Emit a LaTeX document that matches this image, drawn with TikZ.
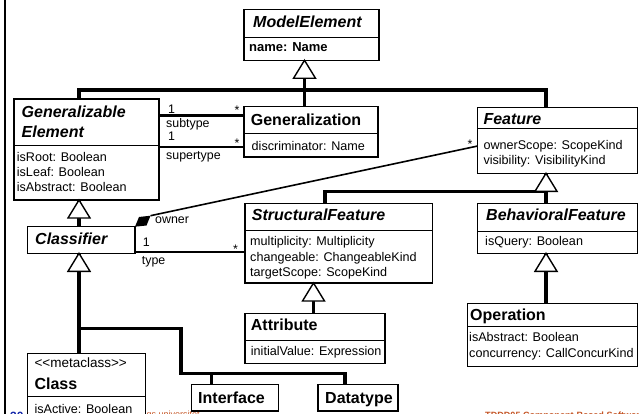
\documentclass[tikz,border=0pt]{standalone}
\usepackage{fontspec}
\setmainfont{Liberation Sans}[Ligatures=TeXOff]
\usetikzlibrary{calc}

\definecolor{footorange}{RGB}{196,84,36}
\definecolor{footblue}{RGB}{20,40,170}

\tikzset{
  cls/.style={draw=black, line width=1.15pt, fill=white, inner sep=0pt, outer sep=0pt, anchor=north west},
  divider/.style={line width=1pt},
  gen/.style={line width=3.5pt},
  tri/.style={draw=black, fill=white, line width=1.4pt},
  ttl/.style={anchor=base west, inner sep=0pt, font=\fontsize{16}{19}\selectfont\bfseries},
  attl/.style={anchor=base west, inner sep=0pt, font=\fontsize{16}{19}\selectfont\bfseries\itshape},
  attr/.style={anchor=base west, inner sep=0pt, font=\fontsize{12.6}{15}\selectfont},
  battr/.style={anchor=base west, inner sep=0pt, font=\fontsize{13}{16}\selectfont\bfseries},
  stereo/.style={anchor=base west, inner sep=0pt, font=\fontsize{13.5}{16}\selectfont},
  role/.style={anchor=base west, inner sep=0pt, font=\fontsize{12.4}{15}\selectfont},
  foot/.style={anchor=base west, inner sep=0pt, text=footorange},
}

% hollow generalization triangle, apex at #1
\newcommand\gentri[1]{\draw[tri] (#1) -- ++(-11,18) -- ++(22,0) -- cycle;}

\begin{document}
\begin{tikzpicture}[x=1pt,y=-1pt]
\useasboundingbox (0,0) rectangle (639,414);
\clip (0,0) rectangle (639,414);

% slide footer
\node[anchor=base west, inner sep=0pt, text=footblue, font=\fontsize{12}{14}\selectfont\bfseries] (pageno) at (10,420.3) {30};
\node[foot, font=\fontsize{9}{11}\selectfont] (uni) at (113,417.5) {Linköpings universitet};
\node[foot, font=\fontsize{9.1}{11}\selectfont\bfseries] (course) at (485,418) {TDDD05 Component-Based Software};

% slide rule on the left
\draw[line width=2.5pt] (5,0) -- (5,414);

% class boxes
\node[cls, minimum width=135, minimum height=51] (me) at (244,9.3) {};
\node[cls, minimum width=145, minimum height=101] (ge) at (14,99) {};
\node[cls, minimum width=134, minimum height=50.5] (gz) at (244,106.5) {};
\node[cls, minimum width=159.8, minimum height=65.6] (ft) at (477.7,107.7) {};
\node[cls, minimum width=107.7, minimum height=26.6] (cl) at (27.3,226.7) {};
\node[cls, minimum width=187.3, minimum height=79.7] (sf) at (245,203.3) {};
\node[cls, minimum width=159.6, minimum height=50] (bf) at (477.7,203.3) {};
\node[cls, minimum width=140, minimum height=50] (at) at (245,313.3) {};
\node[cls, minimum width=169.6, minimum height=63.4] (op) at (467.7,303.3) {};
\node[cls, minimum width=118.4, minimum height=70] (cs) at (27.3,353.3) {};
\node[cls, minimum width=86.6, minimum height=26.5] (if) at (191.7,384.5) {};
\node[cls, minimum width=80, minimum height=26.5] (dt) at (318,384.5) {};

% compartment dividers
\draw[divider] (me.west |- 0,37.3) -- (me.east |- 0,37.3);
\draw[divider] (ge.west |- 0,145.7) -- (ge.east |- 0,145.7);
\draw[divider] (gz.west |- 0,134) -- (gz.east |- 0,134);
\draw[divider] (ft.west |- 0,128.3) -- (ft.east |- 0,128.3);
\draw[divider] (sf.west |- 0,230.7) -- (sf.east |- 0,230.7);
\draw[divider] (bf.west |- 0,231) -- (bf.east |- 0,231);
\draw[divider] (at.west |- 0,340) -- (at.east |- 0,340);
\draw[divider] (op.west |- 0,326.7) -- (op.east |- 0,326.7);
\draw[divider] (cs.west |- 0,396.7) -- (cs.east |- 0,396.7);

% generalization apexes and junctions
\coordinate (meA) at (me.south -| 304.5,0);
\coordinate (geA) at (ge.south -| 79,0);
\coordinate (clA) at (cl.south -| 79,0);
\coordinate (ftA) at (ft.south -| 546,0);
\coordinate (sfA) at (sf.south -| 313.5,0);
\coordinate (bfA) at (bf.south -| 546,0);
\coordinate (busL) at (79,90);
\coordinate (busR) at (546,90);
\coordinate (sfJ) at (325,191.3);
\coordinate (br1) at (79,328.3);
\coordinate (br2) at (181,328.3);
\coordinate (br3) at (181,373.3);
\coordinate (br4) at (345,373.3);
\coordinate (ifJ) at (211.7,373.3);

% generalization lines
\draw[gen] (gz.north -| meA) -- (meA);
\draw[gen] (ge.north -| busL) -- (busL) -- (busR) -- (ft.north -| busR);
\draw[gen] (cl.north -| geA) -- (geA);
\draw[gen] (cs.north -| clA) -- (clA);
\draw[gen] (br1) -- (br2) -- (br3) -- (br4) -- (dt.north -| br4);
\draw[gen] (if.north -| ifJ) -- (ifJ);
\draw[gen] (sf.north -| sfJ) -- (sfJ) -- (sfJ -| ftA);
\draw[gen] (bf.north -| ftA) -- (ftA);
\draw[gen] (at.north -| sfA) -- (sfA);
\draw[gen] (op.north -| bfA) -- (bfA);

\gentri{meA}
\gentri{geA}
\gentri{clA}
\gentri{ftA}
\gentri{sfA}
\gentri{bfA}

% associations
\draw[line width=3pt] (ge.east |- 0,115.5) -- (gz.west |- 0,115.5);
\draw[line width=2pt] (ge.east |- 0,146.7) -- (gz.west |- 0,146.7);
\coordinate (owTip) at (150.5,215.7);
\draw[line width=1.6pt] (ft.west |- 0,146) -- (owTip);
\fill (cl.north east) -- (139,217) -- (owTip) -- (146.5,225.5) -- cycle;
\draw[line width=2pt] (cl.east |- 0,252.3) -- (sf.west |- 0,252.3);

% association ends
\node[role] (m1) at (168,113.3) {1};
\node[role] (m2) at (234.3,115) {*};
\node[role] (r1) at (166,127.5) {subtype};
\node[role] (m3) at (168,141) {1};
\node[role] (m4) at (234.3,148) {*};
\node[role] (r2) at (166,160) {supertype};
\node[role] (m5) at (467.5,149) {*};
\node[role] (r3) at (155,223.3) {owner};
\node[role] (m6) at (142.7,246) {1};
\node[role] (m7) at (233,253) {*};
\node[role] (r4) at (141.7,264.3) {type};

% class contents
\node[attl] (meT) at (253,28) {ModelElement};
\node[battr] (meB) at (249,51.7) {name: Name};

\node[attl] (geT1) at (21.5,117.3) {Generalizable};
\node[attl] (geT2) at (21.5,137.3) {Element};
\node[attr] (geB1) at (16.7,161) {isRoot: Boolean};
\node[attr] (geB2) at (16.7,176.5) {isLeaf: Boolean};
\node[attr] (geB3) at (16.7,191.7) {isAbstract: Boolean};

\node[ttl] (gzT) at (250.7,126) {Generalization};
\node[attr] (gzB) at (251.5,150) {discriminator: Name};

\node[attl] (ftT) at (483.3,124.3) {Feature};
\node[attr] (ftB1) at (483.3,149.3) {ownerScope: ScopeKind};
\node[attr] (ftB2) at (483.3,164.3) {visibility: VisibilityKind};

\node[attl] (clT) at (35,244) {Classifier};

\node[attl] (sfT) at (251.7,220) {StructuralFeature};
\node[attr] (sfB1) at (250,245.7) {multiplicity: Multiplicity};
\node[attr] (sfB2) at (250,261) {changeable: ChangeableKind};
\node[attr] (sfB3) at (250,276) {targetScope: ScopeKind};

\node[attl] (bfT) at (486,220.7) {BehavioralFeature};
\node[attr] (bfB) at (485,245.7) {isQuery: Boolean};

\node[ttl] (atT) at (250.7,330) {Attribute};
\node[attr] (atB) at (250.7,355) {initialValue: Expression};

\node[ttl] (opT) at (470,320) {Operation};
\node[attr] (opB1) at (469,341.7) {isAbstract: Boolean};
\node[attr] (opB2) at (469,357) {concurrency: CallConcurKind};

\node[stereo] (csS) at (34.3,367.7) {<<metaclass>>};
\node[ttl] (csT) at (34.3,389) {Class};
\node[attr] (csB) at (34.3,413.3) {isActive: Boolean};

\node[ttl] (ifT) at (198,403.3) {Interface};
\node[ttl] (dtT) at (325,403.3) {Datatype};
\end{tikzpicture}
\end{document}
